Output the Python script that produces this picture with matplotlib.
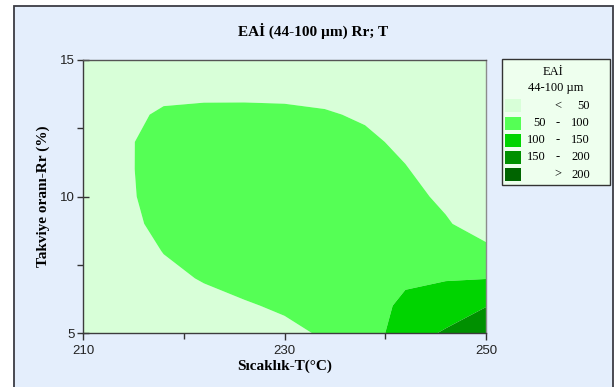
import numpy as np
import matplotlib
matplotlib.use("Agg")
import matplotlib.pyplot as plt
from matplotlib.patches import Rectangle

plt.rcParams["font.family"] = ["Liberation Sans", "DejaVu Sans"]

# ---- data ----
T_vals = [210, 214, 218, 222, 226, 230, 234, 238, 242, 246, 250]
Rr_vals = [5, 6, 7, 8, 9, 10, 11, 12, 13, 14, 15]
# EAİ values, one row per Rr (5 .. 15), columns follow T_vals
eai_rr5 = [15, 15, 20, 27.3, 34.5, 42.7, 53.5, 69.5, 130.5, 154.9, 195]
eai_rr6 = [15, 18, 29.6, 41, 47.2, 54.3, 63, 63.9, 116.7, 126.1, 147.6]
eai_rr7 = [15, 26.7, 43, 52, 60, 67, 70, 72, 88, 97.1, 99]
eai_rr8 = [19.5, 35.2, 50.9, 63.5, 72.8, 77, 75, 78, 77, 77, 58]
eai_rr9 = [20.8, 40, 59.3, 78, 80, 80, 80, 80, 68, 53.3, 33.8]
eai_rr10 = [23.2, 43.3, 63.5, 80, 80, 80, 80, 76, 59.6, 43.6, 29.8]
eai_rr11 = [24, 44.3, 64.5, 80, 80, 80, 78.5, 66.8, 51.6, 35.3, 19.3]
eai_rr12 = [25.5, 44.6, 63.5, 69.8, 69.8, 68.7, 65.2, 56.3, 43.4, 27, 15]
eai_rr13 = [21, 41.5, 54.5, 56, 56.1, 55.3, 53, 46, 33, 18, 15]
eai_rr14 = [16, 31.5, 40, 42.3, 42.4, 42, 38.3, 33.5, 22.5, 15, 15]
eai_rr15 = [15, 19.5, 27, 29, 29, 28.5, 25, 21, 15, 15, 15]

levels = [0, 50, 100, 150, 200, 250]
level_colors = ["#D8FFD8", "#55FF55", "#00D400", "#009000", "#006400"]
legend_labels = [("<", "", "50"), ("50", "-", "100"), ("100", "-", "150"),
                 ("150", "-", "200"), (">", "", "200")]

x_major = [210, 230, 250]
x_minor = [220, 240]
y_major = [5, 10, 15]
y_minor = [7.5, 12.5]

title = "EAİ (44-100 µm) Rr; T"
xlabel = "Sıcaklık-T(°C)"
ylabel = "Takviye oranı-Rr (%)"
legend_title1 = "EAİ"
legend_title2 = "44-100 µm"

Z = np.array([eai_rr5, eai_rr6, eai_rr7, eai_rr8, eai_rr9, eai_rr10,
              eai_rr11, eai_rr12, eai_rr13, eai_rr14, eai_rr15])

W, H = 614, 387
fig = plt.figure(figsize=(W / 100, H / 100), dpi=100)
fig.patch.set_facecolor("white")

SERIF = ["Liberation Serif", "DejaVu Serif"]


def fx(px):
    return px / W


def fy(py):
    return 1 - py / H


# outer frame
frame = Rectangle((fx(14), fy(395)), fx(612.5) - fx(14), fy(6) - fy(395),
                  transform=fig.transFigure, facecolor="#E4EEFC",
                  edgecolor="#3C3C44", linewidth=1.3, zorder=-10)
fig.add_artist(frame)

ax = fig.add_axes([fx(83), fy(333), fx(486) - fx(83), fy(60) - fy(333)])
ax.contourf(T_vals, Rr_vals, Z, levels=levels, colors=level_colors,
            antialiased=True)
ax.set_xlim(210, 250)
ax.set_ylim(5, 15)
ax.set_xticks(x_major)
ax.set_xticks(x_minor, minor=True)
ax.set_yticks(y_major)
ax.set_yticks(y_minor, minor=True)
for s in ax.spines.values():
    s.set_color("#3C3C3C")
    s.set_linewidth(1.0)
ax.spines["right"].set_color("#8C8C8C")
ax.spines["top"].set_color("#555555")
ax.tick_params(axis="both", which="both", colors="#333333",
               labelcolor="#222222", labelsize=9.5, width=1.0)
ax.tick_params(axis="x", which="major", direction="out", length=5, pad=4)
ax.tick_params(axis="x", which="minor", direction="out", length=4)
ax.tick_params(axis="y", which="major", direction="inout", length=8, pad=2)
ax.tick_params(axis="y", which="minor", direction="out", length=4)

fig.text(fx(313.5), fy(31), title, ha="center", va="center",
         family=SERIF, weight="bold", fontsize=11)
fig.text(fx(284.5), fy(366), xlabel, ha="center", va="center",
         family=SERIF, weight="bold", fontsize=11)
fig.text(fx(43), fy(196.5), ylabel, ha="center", va="center", rotation=90,
         family=SERIF, weight="bold", fontsize=11)

# legend box
lg = Rectangle((fx(502), fy(185)), fx(610) - fx(502), fy(59) - fy(185),
               transform=fig.transFigure, facecolor="#EEFFEE",
               edgecolor="#333333", linewidth=1.0, zorder=2)
fig.add_artist(lg)
fig.text(fx(553), fy(72), legend_title1, ha="center", va="center",
         family=SERIF, fontsize=9, zorder=3)
fig.text(fx(556), fy(88.5), legend_title2, ha="center", va="center",
         family=SERIF, fontsize=9, zorder=3)
row0, step = 105.8, 17.2
for i, (col, (a, b, c)) in enumerate(zip(level_colors, legend_labels)):
    yc = row0 + i * step
    sw = Rectangle((fx(505), fy(yc + 6.5)), fx(521) - fx(505), fy(yc - 6.5) - fy(yc + 6.5),
                   transform=fig.transFigure, facecolor=col, edgecolor="none",
                   zorder=3)
    fig.add_artist(sw)
    if b == "":
        fig.text(fx(558), fy(yc), a, ha="center", va="center",
                 family=SERIF, fontsize=9, zorder=3)
    else:
        fig.text(fx(546), fy(yc), a, ha="right", va="center",
                 family=SERIF, fontsize=9, zorder=3)
        fig.text(fx(558), fy(yc), b, ha="center", va="center",
                 family=SERIF, fontsize=9, zorder=3)
    fig.text(fx(590), fy(yc), c, ha="right", va="center",
             family=SERIF, fontsize=9, zorder=3)

fig.savefig("out.png", dpi=100)
